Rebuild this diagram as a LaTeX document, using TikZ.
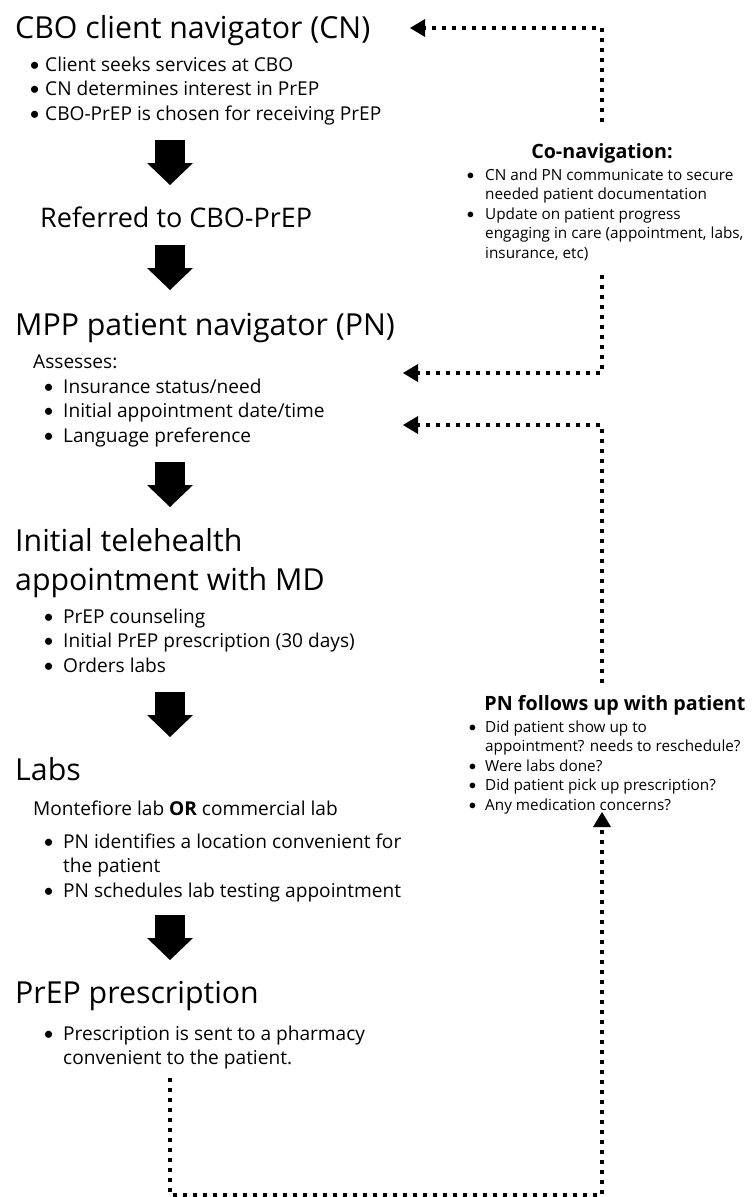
\documentclass[tikz,border=0pt]{standalone}
\usepackage{fontspec}
\setmainfont{Open Sans}
\newfontfamily\bulletfont{Lato}
\usetikzlibrary{arrows.meta,positioning}

\newcommand{\bul}[1][20pt]{\makebox[#1][l]{\bulletfont\textbullet}}

\tikzset{
    steptitle/.style={anchor=base west, inner sep=0pt, align=left, font=\fontsize{30.3}{39}\selectfont},
    stepnote/.style={anchor=base west, inner sep=0pt, font=\fontsize{19.1}{24.5}\selectfont},
    sidehead/.style={anchor=base, inner sep=0pt, font=\bfseries\fontsize{19.7}{22}\selectfont},
    sidenote/.style={anchor=base west, inner sep=0pt, font=\fontsize{15.3}{19.6}\selectfont},
    bigarrow/.style={line width=30pt, -{Triangle[length=22pt, width=46pt, line width=0pt]}},
    dotarrow/.style={line width=4.5pt, dash pattern=on 4pt off 6pt,
        -{Triangle[length=15pt, width=18pt, line width=0pt]}},
}

\begin{document}
\begin{tikzpicture}[x=1pt, y=-1pt]
        \useasboundingbox (0,0) rectangle (755,1197);

        % steps down the left side
        \node[steptitle] (cn) at (15,38) {CBO client navigator (CN)};
        \node[stepnote] (cnlist) at (29,71) {\begin{tabular}[t]{@{}l@{}l@{}}
            \bul[16pt] & Client seeks services at CBO\\
            \bul[16pt] & CN determines interest in PrEP\\
            \bul[16pt] & CBO-PrEP is chosen for receiving PrEP
        \end{tabular}};

        \node[steptitle, font=\fontsize{27}{30}\selectfont] (refer) at (40,227) {Referred to CBO-PrEP};

        \node[steptitle] (pn) at (15,335) {MPP patient navigator (PN)};
        \node[stepnote] (pnask) at (33,368) {Assesses:};
        \node[stepnote] (pnlist) at (43,393) {\begin{tabular}[t]{@{}l@{}l@{}}
            \bul & Insurance status/need\\
            \bul & Initial appointment date/time\\
            \bul & Language preference
        \end{tabular}};

        \node[steptitle] (tele) at (15,590) {Initial telehealth\\appointment with MD};
        \node[stepnote] (telelist) at (43,623) {\begin{tabular}[t]{@{}l@{}l@{}}
            \bul & PrEP counseling\\
            \bul & Initial PrEP prescription (30 days)\\
            \bul & Orders labs
        \end{tabular}};

        \node[steptitle] (labs) at (15,780) {Labs};
        \node[stepnote] (labsalt) at (33,815) {Montefiore lab \textbf{OR} commercial lab};
        \node[stepnote] (labslist) at (43,848) {\begin{tabular}[t]{@{}l@{}l@{}}
            \bul & PN identifies a location convenient for\\
                 & the patient\\
            \bul & PN schedules lab testing appointment
        \end{tabular}};

        \node[steptitle] (rx) at (15,1003) {PrEP prescription};
        \node[stepnote] (rxlist) at (43,1040) {\begin{tabular}[t]{@{}l@{}l@{}}
            \bul & Prescription is sent to a pharmacy\\
                 & convenient to the patient.
        \end{tabular}};

        % notes on the right
        \node[sidehead] (conav) at (602,158) {Co-navigation:};
        \node[sidenote] (conavlist) at (466,180) {\begin{tabular}[t]{@{}l@{}l@{}}
            \bul[19pt] & CN and PN communicate to secure\\
                       & needed patient documentation\\
            \bul[19pt] & Update on patient progress\\
                       & engaging in care (appointment, labs,\\
                       & insurance, etc)
        \end{tabular}};

        \node[sidehead] (follow) at (615,710) {PN follows up with patient};
        \node[sidenote] (followlist) at (468,732) {\begin{tabular}[t]{@{}l@{}l@{}}
            \bul[17pt] & Did patient show up to\\
                       & appointment? needs to reschedule?\\
            \bul[17pt] & Were labs done?\\
            \bul[17pt] & Did patient pick up prescription?\\
            \bul[17pt] & Any medication concerns?
        \end{tabular}};

        % block arrows between the steps
        \coordinate (s1) at (170,140); \coordinate (e1) at (170,185);
        \coordinate (s2) at (170,245); \coordinate (e2) at (170,290);
        \coordinate (s3) at (170,462); \coordinate (e3) at (170,507);
        \coordinate (s4) at (170,692); \coordinate (e4) at (170,737);
        \coordinate (s5) at (170,915); \coordinate (e5) at (170,960);
        \draw[bigarrow] (s1) -- (e1);
        \draw[bigarrow] (s2) -- (e2);
        \draw[bigarrow] (s3) -- (e3);
        \draw[bigarrow] (s4) -- (e4);
        \draw[bigarrow] (s5) -- (e5);

        % dotted loops
        \coordinate (cnin) at (410,28);
        \coordinate (pnin) at (403,373);
        \coordinate (pnback) at (403,425);
        \coordinate (rxout) at (170,1078);
        \coordinate (loopbase) at (170,1195);
        \coordinate (loopup) at (602,812);

        \draw[dotarrow] (conav |- 0,122) |- (cnin);
        \draw[dotarrow] (conav |- 0,275) |- (pnin);
        \draw[dotarrow] (conav |- 0,683) |- (pnback);
        \draw[dotarrow] (rxout) -- (loopbase) -| (loopup);
    \end{tikzpicture}
\end{document}
